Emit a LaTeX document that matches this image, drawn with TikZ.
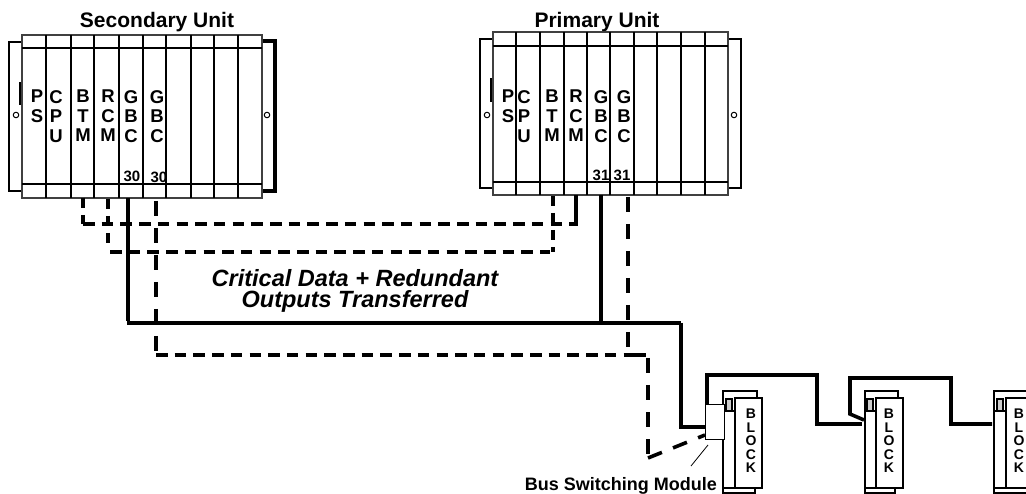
\documentclass[tikz,border=0pt]{standalone}
\usepackage{fontspec}
\setmainfont{Liberation Sans}
\tikzset{
 x=1pt,y=-1pt,
 rl/.style={line width=1.2pt,draw=black},
 sl/.style={line width=1.8pt,draw=black},
 tl/.style={line width=3.2pt,draw=black},
 wire/.style={line width=4pt,draw=black,line join=miter},
 wirethin/.style={line width=3.6pt,draw=black,line join=miter},
 hd/.style={line width=3.6pt,draw=black,dash pattern=on 11.5pt off 7.2pt},
 vd/.style={line width=3.6pt,draw=black,dash pattern=on 15pt off 12pt},
 vds/.style={line width=3.2pt,draw=black,dash pattern=on 10pt off 7pt},
 lett/.style={font=\bfseries\fontsize{18.5}{19.5}\selectfont,align=center,inner sep=0pt,anchor=north},
 num/.style={font=\bfseries\fontsize{15}{15}\selectfont,inner sep=0pt},
 title/.style={font=\bfseries\fontsize{21}{21}\selectfont,inner sep=0pt},
 blk/.style={font=\bfseries\fontsize{14}{13.5}\selectfont,align=center,inner sep=0pt},
 hole/.style={circle,draw=black,line width=1pt,minimum size=5.5pt,inner sep=0pt},
 mod/.style={line width=2pt,draw=black,fill=white},
 sq/.style={line width=2pt,draw=black,fill=black!20},
}
\begin{document}
\begin{tikzpicture}
\useasboundingbox (0,0) rectangle (1026,494);
% Secondary unit
\node[title] (st) at (157,22) {Secondary Unit};
\draw[sl] (22,42) -- (9,42) -- (9,191) -- (22,191);
\draw[tl] (21,82) -- (21,105);
\draw[wire] (262,41) -- (275,41) -- (275,191) -- (262,191);
\draw[rl,draw=black!75] (22,35) rectangle (262,198);
\draw[sl] (22,48) -- (262,48);
\draw[line width=2.2pt] (22,184) -- (262,184);
\draw[line width=2.4pt] (46,35) -- (46,198);
\foreach \x in {71,94,119,143,191,214,238} \draw[sl] (\x,35) -- (\x,198);
\draw[line width=2pt] (166,35) -- (166,198);
\node[hole] (sh1) at (16,115) {};
\node[hole] (sh2) at (267,115) {};
\node[lett] (s1) at (37,90) {P\\S};
\node[lett] (s2) at (56,90) {C\\P\\U};
\node[lett] (s3) at (83,90) {B\\T\\M};
\node[lett] (s4) at (108,90) {R\\C\\M};
\node[lett] (s5) at (131,90) {G\\B\\C};
\node[lett] (s6) at (157,90) {G\\B\\C};
\node[num] (sn1) at (132,176) {30};
\node[num] (sn2) at (159,177) {30};
\coordinate (sa) at (83,198);
\coordinate (sb) at (108,199);
\coordinate (sc) at (128,198);
\coordinate (sd) at (156,201);
% Primary unit
\node[title] (pt) at (597,22) {Primary Unit};
\draw[sl] (493,39) -- (480,39) -- (480,188) -- (493,188);
\draw[tl] (492,78) -- (492,102);
\draw[sl] (728,39) -- (741,39) -- (741,188) -- (728,188);
\draw[rl,draw=black!75] (493,32) rectangle (728,195);
\draw[sl] (493,46) -- (728,46);
\draw[line width=2.2pt] (493,182) -- (728,182);
\foreach \x in {516,540,587,610,634,681,705} \draw[sl] (\x,32) -- (\x,195);
\foreach \x in {564,657} \draw[line width=2.4pt] (\x,32) -- (\x,195);
\node[hole] (ph1) at (487,115) {};
\node[hole] (ph2) at (734,115) {};
\node[lett] (p1) at (508,90) {P\\S};
\node[lett] (p2) at (524,90) {C\\P\\U};
\node[lett] (p3) at (552,90) {B\\T\\M};
\node[lett] (p4) at (576,90) {R\\C\\M};
\node[lett] (p5) at (601,90) {G\\B\\C};
\node[lett] (p6) at (624,90) {G\\B\\C};
\node[num] (pn1) at (601,175) {31};
\node[num] (pn2) at (622,175) {31};
\coordinate (pa) at (553,196);
\coordinate (pb) at (576,195);
\coordinate (pc) at (601,195);
\coordinate (pd) at (628,197);
% connectors
\coordinate (j1) at (83,224); \coordinate (j2) at (576,224);
\draw[vds] (sa) -- (j1);
\draw[hd] (j1) -- (j2);
\draw[wire] (pb) -- (j2) -- ++(-5,0);
\draw[vds] (sb) -- (108,246);
\draw[hd] (110,252) -- (550,252);
\draw[vds] (pa) -- (553,252);
\coordinate (k1) at (128,323); \coordinate (k2) at (601,323); \coordinate (k3) at (681,323);
\coordinate (k4) at (681,427);
% modules
\draw[mod] (723,391) rectangle (757,488);
\draw[mod] (723,411) -- (735,411);
\draw[sq] (726,399) rectangle (732,411);
\draw[mod] (735,398) rectangle (762,488);
\draw[mod] (723,488) rectangle (755,493);
\draw[mod] (865,391) rectangle (898,488);
\draw[mod] (865,411) -- (876,411);
\draw[sq] (867,399) rectangle (873,411);
\draw[mod] (876,398) rectangle (903,488);
\draw[mod] (865,488) rectangle (895,493);
\draw[mod] (994,391) rectangle (1040,488);
\draw[mod] (994,411) -- (1006,411);
\draw[sq] (997,399) rectangle (1003,411);
\draw[mod] (1006,398) rectangle (1040,488);
\draw[mod] (994,488) rectangle (1040,493);
\node[blk] (b1) at (751,441) {B\\L\\O\\C\\K};
\node[blk] (b2) at (889,441) {B\\L\\O\\C\\K};
\node[blk] (b3) at (1019,441) {B\\L\\O\\C\\K};
% wires
\draw[wirethin] (sc) -- (128,321);
\draw[wire,line width=4.4pt] (127,323) -- (k3);
\draw[wire] (k3) -- (k4) -- (706,427);
\draw[wire] (pc) -- (k2);
\draw[vd] (sd) -- (156,353);
\draw[hd] (156,355) -- (628,355);
\draw[vd] (pd) -- (628,355);
\draw[line width=3.6pt] (627,355) -- (646,355);
\draw[vd] (648,358) -- (648,458);
\draw[line width=3.6pt,dash pattern=on 15pt off 12pt] (648,458) -- (705,435);
\draw[wirethin] (707,404) -- (707,375) -- (817,375) -- (817,424) -- (862,424);
\draw[wirethin] (864,420) -- (850,414) -- (850,378) -- (848,378) -- (951,378) -- (951,424) -- (992,424);
% switching module
\node[draw=black,line width=1.2pt,fill=white,minimum width=19pt,minimum height=35pt,inner sep=0pt,anchor=north west] (bsm) at (705,404) {};
\coordinate (l1) at (708,445); \coordinate (l2) at (691,466);
\draw[line width=0.8pt] (l1) -- (l2);
\node[font=\bfseries\fontsize{18}{18}\selectfont,inner sep=0pt,anchor=east] (bl) at (717,486) {Bus Switching Module};
\node[font=\bfseries\itshape\fontsize{23.5}{20.5}\selectfont,align=center,inner sep=0pt] (cd) at (355,291) {Critical Data + Redundant\\Outputs Transferred};
\end{tikzpicture}
\end{document}
